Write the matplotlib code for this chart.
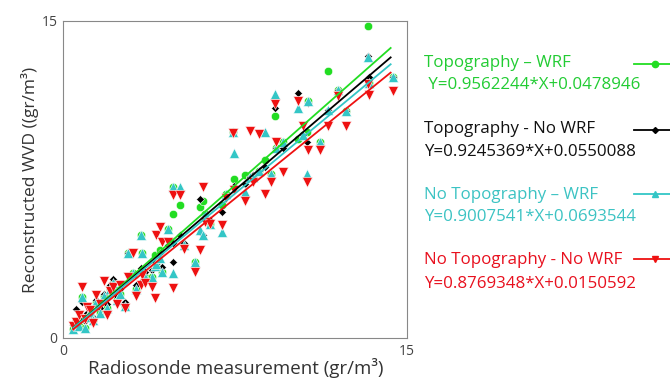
import numpy as np
import matplotlib.pyplot as plt
from matplotlib.lines import Line2D

plt.rcParams['font.family'] = ['Open Sans', 'DejaVu Sans']

# radiosonde measurement (x) and reconstructed WVD for the 4 runs
radiosonde = [0.45, 0.55, 0.7, 0.85, 0.95, 1.05, 1.2, 1.3, 1.45, 1.6,
              1.8, 1.9, 2.05, 2.2, 2.35, 2.5, 2.7, 2.83, 3.05, 3.2,
              3.42, 3.45, 3.6, 3.9, 4.0, 4.07, 4.23, 4.3, 4.6, 4.8,
              4.81, 5.09, 5.3, 5.74, 5.97, 6.1, 6.2, 6.41, 6.92, 7.1,
              7.41, 7.45, 7.94, 8.15, 8.3, 8.55, 8.82, 9.08, 9.24, 9.3,
              9.6, 10.26, 10.48, 10.63, 10.7, 11.2, 11.56, 12.0, 12.35, 13.3,
              13.35, 14.4]
topo_wrf = [0.4, 0.8, 0.55, 1.95, 0.45, 1.0, 1.25, 0.85, 1.7, 1.2,
            2.0, 1.4, 2.3, 2.58, 1.8, 2.1, 1.5, 4.0, 3.05, 2.3,
            4.87, 4.0, 2.9, 2.9, 3.93, 3.5, 4.15, 3.1, 5.16, 5.88,
            7.14, 6.27, 4.4, 3.61, 6.2, 6.5, 5.88, 5.4, 6.27, 6.82,
            9.74, 7.53, 7.69, 7.6, 7.61, 7.9, 8.4, 7.77, 10.5, 9.0,
            9.27, 9.43, 9.6, 9.74, 11.23, 9.27, 12.64, 11.75, 10.76, 14.75,
            12.05, 12.33]
topo_nowrf = [0.6, 1.37, 0.9, 1.71, 0.8, 1.2, 1.4, 1.0, 1.8, 1.4,
              2.1, 1.6, 2.5, 2.81, 2.0, 2.3, 1.7, 4.0, 3.0, 2.5,
              3.3, 2.7, 3.1, 3.2, 3.6, 3.5, 4.0, 3.38, 4.4, 3.6,
              4.5, 4.86, 4.5, 3.5, 6.59, 4.87, 5.7, 5.6, 5.96, 6.7,
              9.74, 7.2, 7.3, 7.6, 7.69, 7.9, 8.1, 7.7, 10.9, 9.0,
              9.0, 11.59, 9.6, 9.27, 11.1, 9.2, 10.78, 11.75, 10.76, 13.35,
              12.33, 12.33]
notopo_wrf = [0.4, 0.8, 0.55, 1.95, 0.45, 1.0, 1.25, 0.85, 1.7, 1.2,
              2.0, 1.4, 2.3, 2.58, 1.8, 2.1, 1.5, 4.0, 3.05, 2.3,
              4.87, 4.0, 2.9, 2.9, 3.4, 3.5, 3.8, 3.1, 5.16, 3.07,
              7.14, 7.14, 4.4, 3.61, 5.1, 4.87, 5.88, 5.4, 5.01, 6.82,
              9.74, 8.75, 6.9, 7.6, 7.61, 7.9, 9.73, 7.77, 11.54, 9.0,
              9.27, 10.9, 9.6, 7.77, 11.23, 9.27, 10.8, 11.75, 10.76, 13.3,
              12.05, 12.33]
notopo_nowrf = [0.55, 0.77, 1.1, 2.42, 0.9, 1.45, 1.3, 0.7, 2.03, 1.6,
                2.7, 1.1, 2.2, 2.4, 1.6, 2.5, 1.4, 2.9, 4.0, 2.0,
                2.5, 3.0, 2.6, 2.42, 1.9, 4.86, 5.25, 4.54, 4.55, 2.36,
                6.75, 6.75, 4.22, 3.14, 4.15, 7.14, 5.5, 5.41, 5.33, 6.6,
                9.7, 7.0, 6.5, 9.81, 7.4, 9.66, 6.83, 7.4, 11.08, 9.27,
                7.85, 11.2, 10.05, 7.4, 8.87, 8.87, 10.05, 11.47, 10.05, 12.0,
                11.5, 11.7]

labels = ['Topography \u2013 WRF', 'Topography - No WRF',
          'No Topography \u2013 WRF', 'No Topography - No WRF']
equations = [' Y=0.9562244*X+0.0478946', 'Y=0.9245369*X+0.0550088',
             'Y=0.9007541*X+0.0693544', 'Y=0.8769348*X+0.0150592']
slopes = [0.9562244, 0.9245369, 0.9007541, 0.8769348]
intercepts = [0.0478946, 0.0550088, 0.0693544, 0.0150592]
series = [topo_wrf, topo_nowrf, notopo_wrf, notopo_nowrf]
colors = ['#22DD22', '#000000', '#33C6C6', '#EE1111']
text_colors = ['#22CC33', '#111111', '#3CC3C3', '#E8101E']
markers = ['o', 'D', '^', 'v']
sizes = [6, 4.5, 6.5, 6.5]

fig = plt.figure(figsize=(6.7, 3.81), dpi=100)
ax = fig.add_axes([0.094, 0.113, 0.513, 0.832])

for y, c, m, s in zip(series, colors, markers, sizes):
    ax.plot(radiosonde, y, linestyle='none', marker=m, color=c, ms=s,
            mec='white', mew=0.4)

xfit = np.array([0.45, 14.3])
for a, b, c in zip(slopes, intercepts, colors):
    ax.plot(xfit, a * xfit + b, color=c, lw=1.3)

ax.set_xlim(0, 15)
ax.set_ylim(0, 15)
ax.set_xticks([0, 15])
ax.set_yticks([0, 15])
ax.tick_params(length=0, labelsize=10, colors='#444444', pad=4)
for sp in ax.spines.values():
    sp.set_color('#888888')
fig.text(236 / 670, 1 - 368 / 381, 'Radiosonde measurement (gr/m\u00b3)',
         fontsize=13.5, color='#333333', ha='center', va='center')
fig.text(30 / 670, 1 - 180 / 381, 'Reconstructed WVD ((gr/m\u00b3)',
         fontsize=12.5, color='#333333', ha='center', va='center', rotation=90)

# legend block on the right
title_y = [63, 129, 195, 260]
eq_y = [85, 152, 217, 284]
handle_y = [64, 130, 194, 259]
for i in range(4):
    fig.text(424 / 670, 1 - title_y[i] / 381, labels[i], color=text_colors[i],
             fontsize=12.2, va='center')
    fig.text(424 / 670, 1 - eq_y[i] / 381, equations[i], color=text_colors[i],
             fontsize=12.2, va='center')
    fig.add_artist(Line2D([634 / 670, 1.0], [1 - handle_y[i] / 381] * 2,
                          color=colors[i], lw=1.3, transform=fig.transFigure))
    fig.add_artist(Line2D([655 / 670], [1 - handle_y[i] / 381], marker=markers[i],
                          color=colors[i], ms=sizes[i] - 1.5, transform=fig.transFigure))

fig.savefig('out.png', dpi=100)
